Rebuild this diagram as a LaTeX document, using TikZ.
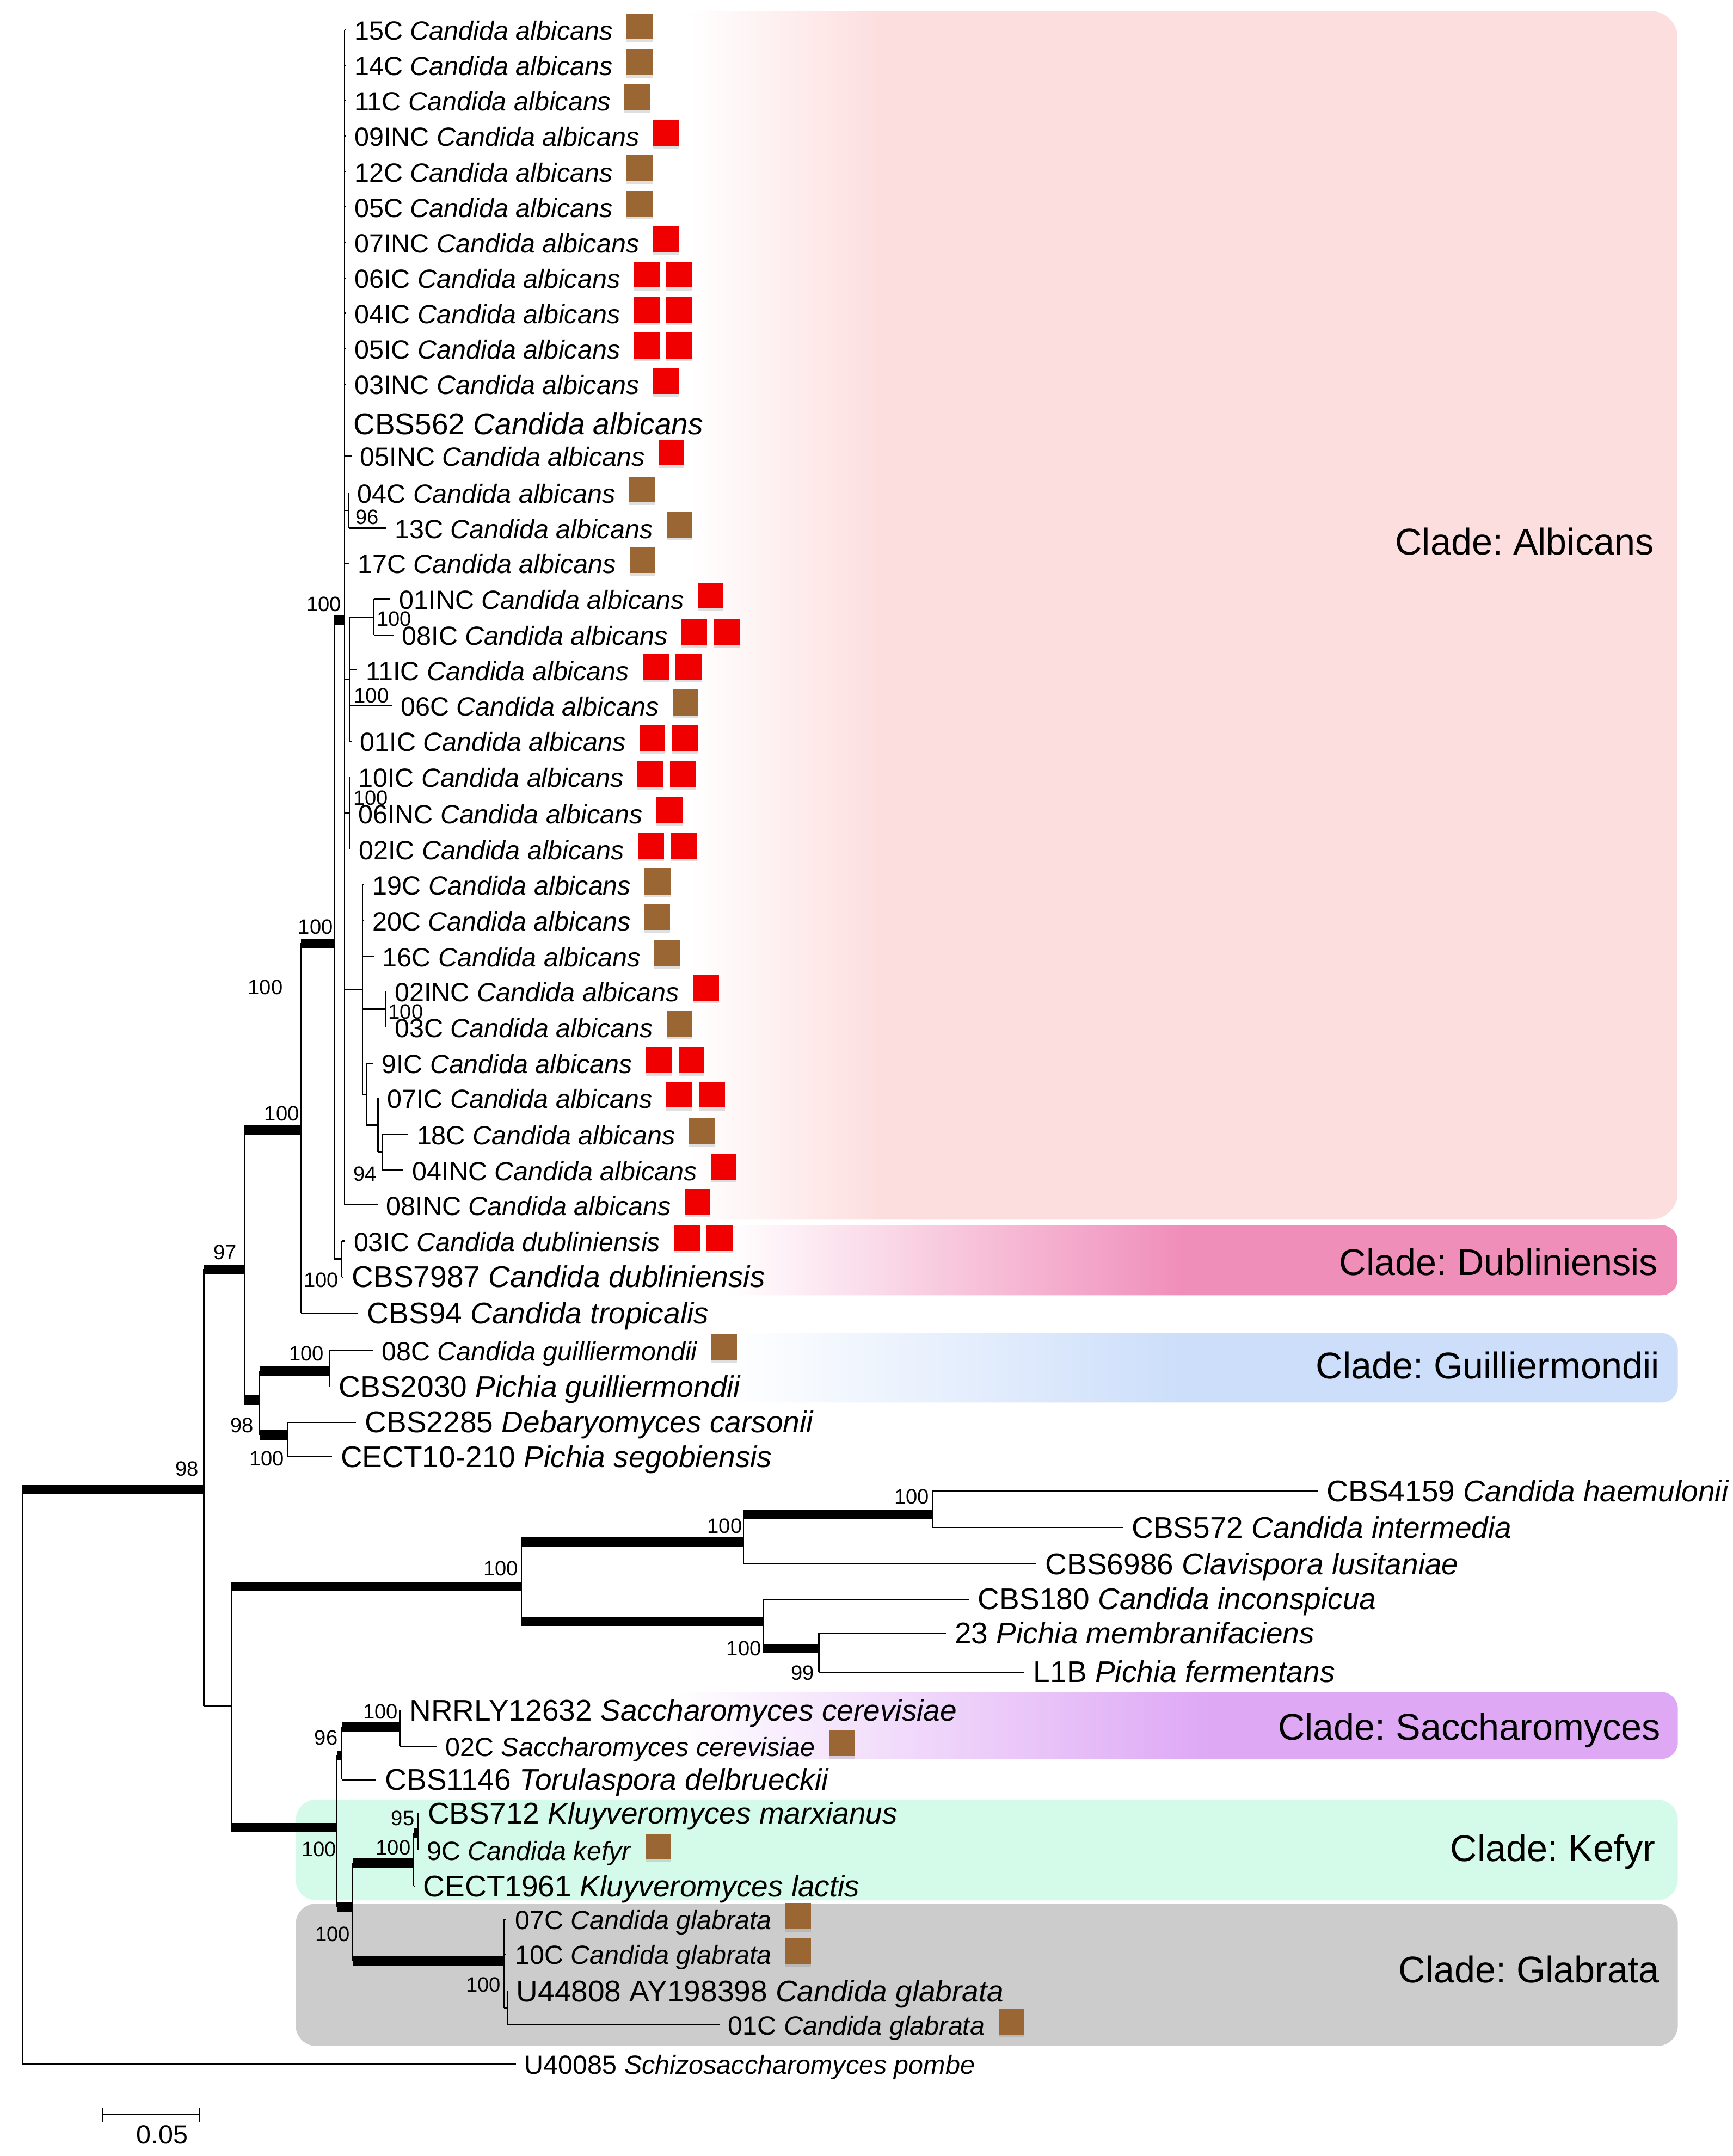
\documentclass[tikz,border=0pt]{standalone}
\usepackage{fontspec}
\setmainfont{Liberation Sans}
\usetikzlibrary{positioning, shadows}
\frenchspacing
\definecolor{albpink}{RGB}{253,222,223}
\definecolor{dubpink}{RGB}{240,142,186}
\definecolor{guilblue}{RGB}{204,222,250}
\definecolor{sacviolet}{RGB}{222,168,245}
\definecolor{kefmint}{RGB}{212,251,233}
\definecolor{glabgray}{RGB}{204,204,204}
\definecolor{isobrown}{RGB}{154,102,52}
\definecolor{isored}{RGB}{240,0,0}
\pgfdeclarehorizontalshading{albshade}{100bp}{color(0bp)=(white); color(25.7bp)=(white); color(35.3bp)=(albpink); color(100bp)=(albpink)}
\pgfdeclarehorizontalshading{dubshade}{100bp}{color(0bp)=(white); color(27bp)=(white); color(50bp)=(dubpink); color(100bp)=(dubpink)}
\pgfdeclarehorizontalshading{guilshade}{100bp}{color(0bp)=(white); color(27bp)=(white); color(50bp)=(guilblue); color(100bp)=(guilblue)}
\pgfdeclarehorizontalshading{sacshade}{100bp}{color(0bp)=(white); color(25.7bp)=(white); color(52bp)=(sacviolet); color(100bp)=(sacviolet)}
\tikzstyle{leaf}=[anchor=base west, inner xsep=0.3cm, inner ysep=0pt, text height=0.75cm, text depth=0pt, font=\fontsize{27.3}{30}\selectfont]
\tikzstyle{refleaf}=[leaf, font=\fontsize{31}{34}\selectfont]
\tikzstyle{boot}=[anchor=base east, inner sep=0pt, font=\fontsize{21.5}{24}\selectfont]
\tikzstyle{clade}=[anchor=base east, inner sep=0pt, font=\fontsize{38.5}{42}\selectfont]
\tikzstyle{thickbr}=[line width=0.34cm]
\tikzstyle{isolate}=[rectangle, minimum size=0.94cm, inner sep=0pt, drop shadow={shadow xshift=0pt, shadow yshift=-0.1cm, opacity=0.25}]
\tikzstyle{brownsq}=[isolate, fill=isobrown]
\tikzstyle{redsq}=[isolate, fill=isored]

\begin{document}
\begin{tikzpicture}[x=0.05cm, y=-0.05cm, line width=1.3pt]
  \useasboundingbox (0,0) rectangle (1260,1568);

  \shade[shading=albshade, rounded corners=1cm] (490,8) rectangle (1220,887);
  \shade[shading=dubshade, rounded corners=0.6cm] (500,891) rectangle (1220,942);
  \shade[shading=guilshade, rounded corners=0.6cm] (500,969.5) rectangle (1220,1020);
  \shade[shading=sacshade, rounded corners=0.6cm] (480,1230.6) rectangle (1220,1279.2);
  \fill[kefmint, rounded corners=0.75cm] (215,1308.7) rectangle (1220,1382);
  \fill[glabgray, rounded corners=0.75cm] (215,1384.4) rectangle (1220,1488);

  \node[clade] (cAlb) at (1203,403.3) {Clade: Albicans};
  \node[clade] (cDub) at (1206,927.3) {Clade: Dubliniensis};
  \node[clade] (cGui) at (1207,1002.5) {Clade: Guilliermondii};
  \node[clade] (cSac) at (1208,1265.6) {Clade: Saccharomyces};
  \node[clade] (cKef) at (1204,1353.5) {Clade: Kefyr};
  \node[clade] (cGla) at (1207,1442) {Clade: Glabrata};

  \node[leaf] (l15C) at (251.4,29.1) {15C \textit{Candida albicans}};
  \node[leaf] (l14C) at (251.4,54.9) {14C \textit{Candida albicans}};
  \node[leaf] (l11C) at (251.4,80.6) {11C \textit{Candida albicans}};
  \node[leaf] (l09INC) at (251.4,106.4) {09INC \textit{Candida albicans}};
  \node[leaf] (l12C) at (251.4,132.2) {12C \textit{Candida albicans}};
  \node[leaf] (l05C) at (251.4,158) {05C \textit{Candida albicans}};
  \node[leaf] (l07INC) at (251.4,183.8) {07INC \textit{Candida albicans}};
  \node[leaf] (l06IC) at (251.4,209.6) {06IC \textit{Candida albicans}};
  \node[leaf] (l04IC) at (251.4,235.3) {04IC \textit{Candida albicans}};
  \node[leaf] (l05IC) at (251.4,261.1) {05IC \textit{Candida albicans}};
  \node[leaf] (l03INC) at (251.4,286.9) {03INC \textit{Candida albicans}};
  \node[refleaf] (lCBS562) at (250.5,316) {CBS562 \textit{Candida albicans}};
  \node[leaf] (l05INC) at (255.5,339) {05INC \textit{Candida albicans}};
  \node[leaf] (l04C) at (253.5,365.9) {04C \textit{Candida albicans}};
  \node[leaf] (l13C) at (280.5,391.6) {13C \textit{Candida albicans}};
  \node[leaf] (l17C) at (253.7,417) {17C \textit{Candida albicans}};
  \node[leaf] (l01INC) at (283.9,443) {01INC \textit{Candida albicans}};
  \node[leaf] (l08IC) at (286,469.3) {08IC \textit{Candida albicans}};
  \node[leaf] (l11IC) at (259.5,494.7) {11IC \textit{Candida albicans}};
  \node[leaf] (l06C) at (285,520.8) {06C \textit{Candida albicans}};
  \node[leaf] (l01IC) at (255.5,546.5) {01IC \textit{Candida albicans}};
  \node[leaf] (l10IC) at (254,572.6) {10IC \textit{Candida albicans}};
  \node[leaf] (l06INC) at (254,598.8) {06INC \textit{Candida albicans}};
  \node[leaf] (l02IC) at (254.5,624.9) {02IC \textit{Candida albicans}};
  \node[leaf] (l19C) at (264.6,651) {19C \textit{Candida albicans}};
  \node[leaf] (l20C) at (264.3,677) {20C \textit{Candida albicans}};
  \node[leaf] (l16C) at (271.7,703) {16C \textit{Candida albicans}};
  \node[leaf] (l02INC) at (280.6,728.2) {02INC \textit{Candida albicans}};
  \node[leaf] (l03C) at (280.6,754.5) {03C \textit{Candida albicans}};
  \node[leaf] (l9IC) at (271,780.8) {9IC \textit{Candida albicans}};
  \node[leaf] (l07IC) at (275,806) {07IC \textit{Candida albicans}};
  \node[leaf] (l18C) at (296.7,832.3) {18C \textit{Candida albicans}};
  \node[leaf] (l04INC) at (293.4,858.5) {04INC \textit{Candida albicans}};
  \node[leaf] (l08INC) at (274.5,883.8) {08INC \textit{Candida albicans}};
  \node[leaf] (l03IC) at (250.8,910) {03IC \textit{Candida dubliniensis}};
  \node[refleaf] (lCBS7987) at (249.5,936.2) {CBS7987 \textit{Candida dubliniensis}};
  \node[refleaf] (lCBS94) at (260.6,962.5) {CBS94 \textit{Candida tropicalis}};
  \node[leaf] (l08C) at (271.1,989.5) {08C \textit{Candida guilliermondii}};
  \node[refleaf] (lCBS2030) at (240,1016) {CBS2030 \textit{Pichia guilliermondii}};
  \node[refleaf] (lCBS2285) at (259,1042) {CBS2285 \textit{Debaryomyces carsonii}};
  \node[refleaf] (lCECT10) at (241.3,1067) {CECT10-210 \textit{Pichia segobiensis}};
  \node[refleaf] (lCBS4159) at (958.3,1092) {CBS4159 \textit{Candida haemulonii}};
  \node[refleaf] (lCBS572) at (816.5,1118.5) {CBS572 \textit{Candida intermedia}};
  \node[refleaf] (lCBS6986) at (753.7,1145) {CBS6986 \textit{Clavispora lusitaniae}};
  \node[refleaf] (lCBS180) at (704.7,1170.6) {CBS180 \textit{Candida inconspicua}};
  \node[refleaf] (l23) at (687.8,1195.3) {23 \textit{Pichia membranifaciens}};
  \node[refleaf] (lL1B) at (745,1223.6) {L1B \textit{Pichia fermentans}};
  \node[refleaf] (lNRRLY) at (291.3,1251.4) {NRRLY12632 \textit{Saccharomyces cerevisiae}};
  \node[leaf] (l02C) at (317.5,1277.4) {02C \textit{Saccharomyces cerevisiae}};
  \node[refleaf] (lCBS1146) at (273.6,1301.8) {CBS1146 \textit{Torulaspora delbrueckii}};
  \node[refleaf] (lCBS712) at (304.7,1326.3) {CBS712 \textit{Kluyveromyces marxianus}};
  \node[leaf] (l9C) at (304,1352.8) {9C \textit{Candida kefyr}};
  \node[refleaf] (lCECT1961) at (301.4,1379.3) {CECT1961 \textit{Kluyveromyces lactis}};
  \node[leaf] (l07C) at (368,1403.3) {07C \textit{Candida glabrata}};
  \node[leaf] (l10C) at (368,1428.6) {10C \textit{Candida glabrata}};
  \node[refleaf] (lU44808) at (369,1455.6) {U44808 AY198398 \textit{Candida glabrata}};
  \node[leaf] (l01C) at (523,1480) {01C \textit{Candida glabrata}};
  \node[leaf] (lU40085) at (375,1508.6) {U40085 \textit{Schizosaccharomyces pombe}};

  \node[brownsq, anchor=south west] (s15C) at ([xshift=0.15cm]l15C.base east) {};
  \node[brownsq, anchor=south west] (s14C) at ([xshift=0.15cm]l14C.base east) {};
  \node[brownsq, anchor=south west] (s11C) at ([xshift=0.15cm]l11C.base east) {};
  \node[redsq, anchor=south west] (s09INC) at ([xshift=0.15cm]l09INC.base east) {};
  \node[brownsq, anchor=south west] (s12C) at ([xshift=0.15cm]l12C.base east) {};
  \node[brownsq, anchor=south west] (s05C) at ([xshift=0.15cm]l05C.base east) {};
  \node[redsq, anchor=south west] (s07INC) at ([xshift=0.15cm]l07INC.base east) {};
  \node[redsq, anchor=south west] (s06IC) at ([xshift=0.15cm]l06IC.base east) {};
  \node[redsq, right=0.2cm of s06IC] (s06ICb) {};
  \node[redsq, anchor=south west] (s04IC) at ([xshift=0.15cm]l04IC.base east) {};
  \node[redsq, right=0.2cm of s04IC] (s04ICb) {};
  \node[redsq, anchor=south west] (s05IC) at ([xshift=0.15cm]l05IC.base east) {};
  \node[redsq, right=0.2cm of s05IC] (s05ICb) {};
  \node[redsq, anchor=south west] (s03INC) at ([xshift=0.15cm]l03INC.base east) {};
  \node[redsq, anchor=south west] (s05INC) at ([xshift=0.15cm]l05INC.base east) {};
  \node[brownsq, anchor=south west] (s04C) at ([xshift=0.15cm]l04C.base east) {};
  \node[brownsq, anchor=south west] (s13C) at ([xshift=0.15cm]l13C.base east) {};
  \node[brownsq, anchor=south west] (s17C) at ([xshift=0.15cm]l17C.base east) {};
  \node[redsq, anchor=south west] (s01INC) at ([xshift=0.15cm]l01INC.base east) {};
  \node[redsq, anchor=south west] (s08IC) at ([xshift=0.15cm]l08IC.base east) {};
  \node[redsq, right=0.2cm of s08IC] (s08ICb) {};
  \node[redsq, anchor=south west] (s11IC) at ([xshift=0.15cm]l11IC.base east) {};
  \node[redsq, right=0.2cm of s11IC] (s11ICb) {};
  \node[brownsq, anchor=south west] (s06C) at ([xshift=0.15cm]l06C.base east) {};
  \node[redsq, anchor=south west] (s01IC) at ([xshift=0.15cm]l01IC.base east) {};
  \node[redsq, right=0.2cm of s01IC] (s01ICb) {};
  \node[redsq, anchor=south west] (s10IC) at ([xshift=0.15cm]l10IC.base east) {};
  \node[redsq, right=0.2cm of s10IC] (s10ICb) {};
  \node[redsq, anchor=south west] (s06INC) at ([xshift=0.15cm]l06INC.base east) {};
  \node[redsq, anchor=south west] (s02IC) at ([xshift=0.15cm]l02IC.base east) {};
  \node[redsq, right=0.2cm of s02IC] (s02ICb) {};
  \node[brownsq, anchor=south west] (s19C) at ([xshift=0.15cm]l19C.base east) {};
  \node[brownsq, anchor=south west] (s20C) at ([xshift=0.15cm]l20C.base east) {};
  \node[brownsq, anchor=south west] (s16C) at ([xshift=0.15cm]l16C.base east) {};
  \node[redsq, anchor=south west] (s02INC) at ([xshift=0.15cm]l02INC.base east) {};
  \node[brownsq, anchor=south west] (s03C) at ([xshift=0.15cm]l03C.base east) {};
  \node[redsq, anchor=south west] (s9IC) at ([xshift=0.15cm]l9IC.base east) {};
  \node[redsq, right=0.2cm of s9IC] (s9ICb) {};
  \node[redsq, anchor=south west] (s07IC) at ([xshift=0.15cm]l07IC.base east) {};
  \node[redsq, right=0.2cm of s07IC] (s07ICb) {};
  \node[brownsq, anchor=south west] (s18C) at ([xshift=0.15cm]l18C.base east) {};
  \node[redsq, anchor=south west] (s04INC) at ([xshift=0.15cm]l04INC.base east) {};
  \node[redsq, anchor=south west] (s08INC) at ([xshift=0.15cm]l08INC.base east) {};
  \node[redsq, anchor=south west] (s03IC) at ([xshift=0.15cm]l03IC.base east) {};
  \node[redsq, right=0.2cm of s03IC] (s03ICb) {};
  \node[brownsq, anchor=south west] (s08C) at ([xshift=0.15cm]l08C.base east) {};
  \node[brownsq, anchor=south west] (s02C) at ([xshift=0.15cm]l02C.base east) {};
  \node[brownsq, anchor=south west] (s9C) at ([xshift=0.15cm]l9C.base east) {};
  \node[brownsq, anchor=south west] (s07C) at ([xshift=0.15cm]l07C.base east) {};
  \node[brownsq, anchor=south west] (s10C) at ([xshift=0.15cm]l10C.base east) {};
  \node[brownsq, anchor=south west] (s01C) at ([xshift=0.15cm]l01C.base east) {};

  \coordinate (nRoot) at (16.3,1083.5);
  \coordinate (nA) at (148.2,1083.5);
  \coordinate (nB) at (177.8,923);
  \coordinate (nC) at (219,822);
  \coordinate (nD) at (243,686);
  \coordinate (nE) at (250.5,451);
  \coordinate (nS1) at (253.5,371.2);
  \coordinate (nP1) at (272,448.7);
  \coordinate (nF1) at (254,493.8);
  \coordinate (nF2) at (254,591.3);
  \coordinate (nG) at (263.5,719.7);
  \coordinate (nP2) at (280.5,733.9);
  \coordinate (nH) at (266.4,795.8);
  \coordinate (nH2) at (274.8,818.2);
  \coordinate (nH3) at (277.7,837.9);
  \coordinate (nDub) at (248.5,915.6);
  \coordinate (nI) at (188.8,1018);
  \coordinate (nJ) at (239.3,997);
  \coordinate (nK) at (209,1043.6);
  \coordinate (nL) at (168.3,1240.5);
  \coordinate (nV) at (379,1153.8);
  \coordinate (nW) at (540.6,1121.5);
  \coordinate (nX) at (677.8,1101.7);
  \coordinate (nY) at (555,1179.3);
  \coordinate (nZ) at (595.4,1198.8);
  \coordinate (nP) at (244.8,1329);
  \coordinate (nM) at (248.6,1276.5);
  \coordinate (nN) at (290.7,1256);
  \coordinate (nQ) at (256.5,1387);
  \coordinate (nKef) at (300.8,1354.7);
  \coordinate (nKm) at (304,1333);
  \coordinate (nT) at (366.5,1426);
  \coordinate (nU) at (368.8,1460.3);

  \draw (nRoot) -- (nRoot |- lU40085.west);
  \draw (nRoot |- lU40085.west) -- (lU40085.west);
  \draw[thickbr] (nRoot) -- (nA);
  \draw (nA |- nB) -- (nA |- nL);
  \draw[thickbr] (nA |- nB) -- (nB);
  \draw (nA |- nL) -- (nL);
  \draw (nB |- nC) -- (nB |- nI);
  \draw[thickbr] (nB |- nC) -- (nC);
  \draw[thickbr] (nB |- nI) -- (nI);
  \draw (nC |- nD) -- (nC |- lCBS94.west);
  \draw[thickbr] (nC |- nD) -- (nD);
  \draw (nC |- lCBS94.west) -- (lCBS94.west);
  \draw (nD |- nE) -- (nD |- nDub);
  \draw[thickbr] (nD |- nE) -- (nE);
  \draw (nD |- nDub) -- (nDub);

  \draw (nE |- l15C.west) -- (nE |- l08INC.west);
  \draw (nE |- l15C.west) -- (l15C.west);
  \draw (nE |- l14C.west) -- (l14C.west);
  \draw (nE |- l11C.west) -- (l11C.west);
  \draw (nE |- l09INC.west) -- (l09INC.west);
  \draw (nE |- l12C.west) -- (l12C.west);
  \draw (nE |- l05C.west) -- (l05C.west);
  \draw (nE |- l07INC.west) -- (l07INC.west);
  \draw (nE |- l06IC.west) -- (l06IC.west);
  \draw (nE |- l04IC.west) -- (l04IC.west);
  \draw (nE |- l05IC.west) -- (l05IC.west);
  \draw (nE |- l03INC.west) -- (l03INC.west);
  \draw (nE |- lCBS562.west) -- (lCBS562.west);
  \draw (nE |- l05INC.west) -- (l05INC.west);
  \draw (nE |- l17C.west) -- (l17C.west);
  \draw (nE |- l08INC.west) -- (l08INC.west);
  \draw (nE |- nS1) -- (nS1);
  \draw (nE |- nF1) -- (nF1);
  \draw (nE |- nF2) -- (nF2);
  \draw (nE |- nG) -- (nG);

  \draw (nS1 |- l04C.west) -- (nS1 |- l13C.west);
  \draw (nS1 |- l04C.west) -- (l04C.west);
  \draw (nS1 |- l13C.west) -- (l13C.west);

  \draw (nF1 |- nP1) -- (nF1 |- l01IC.west);
  \draw (nF1 |- nP1) -- (nP1);
  \draw (nF1 |- l11IC.west) -- (l11IC.west);
  \draw (nF1 |- l06C.west) -- (l06C.west);
  \draw (nF1 |- l01IC.west) -- (l01IC.west);
  \draw (nP1 |- l01INC.west) -- (nP1 |- l08IC.west);
  \draw (nP1 |- l01INC.west) -- (l01INC.west);
  \draw (nP1 |- l08IC.west) -- (l08IC.west);

  \draw (nF2 |- l10IC.west) -- (nF2 |- l02IC.west);
  \draw (nF2 |- l10IC.west) -- (l10IC.west);
  \draw (nF2 |- l06INC.west) -- (l06INC.west);
  \draw (nF2 |- l02IC.west) -- (l02IC.west);

  \draw (nG |- l19C.west) -- (nG |- nH);
  \draw (nG |- l19C.west) -- (l19C.west);
  \draw (nG |- l20C.west) -- (l20C.west);
  \draw (nG |- l16C.west) -- (l16C.west);
  \draw (nG |- nP2) -- (nP2);
  \draw (nG |- nH) -- (nH);
  \draw (nP2 |- l02INC.west) -- (nP2 |- l03C.west);
  \draw (nP2 |- l02INC.west) -- (l02INC.west);
  \draw (nP2 |- l03C.west) -- (l03C.west);
  \draw (nH |- l9IC.west) -- (nH |- nH2);
  \draw (nH |- l9IC.west) -- (l9IC.west);
  \draw (nH |- nH2) -- (nH2);
  \draw (nH2 |- l07IC.west) -- (nH2 |- nH3);
  \draw (nH2 |- l07IC.west) -- (l07IC.west);
  \draw (nH2 |- nH3) -- (nH3);
  \draw (nH3 |- l18C.west) -- (nH3 |- l04INC.west);
  \draw (nH3 |- l18C.west) -- (l18C.west);
  \draw (nH3 |- l04INC.west) -- (l04INC.west);

  \draw (nDub |- l03IC.west) -- (nDub |- lCBS7987.west);
  \draw (nDub |- l03IC.west) -- (l03IC.west);
  \draw (nDub |- lCBS7987.west) -- (lCBS7987.west);

  \draw (nI |- nJ) -- (nI |- nK);
  \draw[thickbr] (nI |- nJ) -- (nJ);
  \draw[thickbr] (nI |- nK) -- (nK);
  \draw (nJ |- l08C.west) -- (nJ |- lCBS2030.west);
  \draw (nJ |- l08C.west) -- (l08C.west);
  \draw (nJ |- lCBS2030.west) -- (lCBS2030.west);
  \draw (nK |- lCBS2285.west) -- (nK |- lCECT10.west);
  \draw (nK |- lCBS2285.west) -- (lCBS2285.west);
  \draw (nK |- lCECT10.west) -- (lCECT10.west);

  \draw (nL |- nV) -- (nL |- nP);
  \draw[thickbr] (nL |- nV) -- (nV);
  \draw[thickbr] (nL |- nP) -- (nP);
  \draw (nV |- nW) -- (nV |- nY);
  \draw[thickbr] (nV |- nW) -- (nW);
  \draw[thickbr] (nV |- nY) -- (nY);
  \draw (nW |- nX) -- (nW |- lCBS6986.west);
  \draw[thickbr] (nW |- nX) -- (nX);
  \draw (nW |- lCBS6986.west) -- (lCBS6986.west);
  \draw (nX |- lCBS4159.west) -- (nX |- lCBS572.west);
  \draw (nX |- lCBS4159.west) -- (lCBS4159.west);
  \draw (nX |- lCBS572.west) -- (lCBS572.west);
  \draw (nY |- lCBS180.west) -- (nY |- nZ);
  \draw (nY |- lCBS180.west) -- (lCBS180.west);
  \draw[thickbr] (nY |- nZ) -- (nZ);
  \draw (nZ |- l23.west) -- (nZ |- lL1B.west);
  \draw (nZ |- l23.west) -- (l23.west);
  \draw (nZ |- lL1B.west) -- (lL1B.west);

  \draw (nP |- nM) -- (nP |- nQ);
  \draw[thickbr] (nP |- nM) -- (nM);
  \draw[thickbr] (nP |- nQ) -- (nQ);
  \draw (nM |- nN) -- (nM |- lCBS1146.west);
  \draw[thickbr] (nM |- nN) -- (nN);
  \draw (nM |- lCBS1146.west) -- (lCBS1146.west);
  \draw (nN |- lNRRLY.west) -- (nN |- l02C.west);
  \draw (nN |- lNRRLY.west) -- (lNRRLY.west);
  \draw (nN |- l02C.west) -- (l02C.west);
  \draw (nQ |- nKef) -- (nQ |- nT);
  \draw[thickbr] (nQ |- nKef) -- (nKef);
  \draw[thickbr] (nQ |- nT) -- (nT);
  \draw (nKef |- nKm) -- (nKef |- lCECT1961.west);
  \draw[thickbr] (nKef |- nKm) -- (nKm);
  \draw (nKef |- lCECT1961.west) -- (lCECT1961.west);
  \draw (nKm |- lCBS712.west) -- (nKm |- l9C.west);
  \draw (nKm |- lCBS712.west) -- (lCBS712.west);
  \draw (nKm |- l9C.west) -- (l9C.west);
  \draw (nT |- l07C.west) -- (nT |- nU);
  \draw (nT |- l07C.west) -- (l07C.west);
  \draw (nT |- l10C.west) -- (l10C.west);
  \draw (nT |- nU) -- (nU);
  \draw (nU |- lU44808.west) -- (nU |- l01C.west);
  \draw (nU |- lU44808.west) -- (lU44808.west);
  \draw (nU |- l01C.west) -- (l01C.west);

  \node[boot] (bA) at (145,1073.4) {98};
  \node[boot] (bB) at (172.5,916) {97};
  \node[boot] (bC) at (218,815) {100};
  \node[boot] (bCx) at (206,723.2) {100};
  \node[boot] (bD) at (242.5,679.5) {100};
  \node[boot] (bE) at (248.5,444.5) {100};
  \node[boot, anchor=base west] (bS1) at (258,381.5) {96};
  \node[boot, anchor=base west] (bP1) at (273.5,455.5) {100};
  \node[boot, anchor=base west] (bF1) at (257,511) {100};
  \node[boot, anchor=base west] (bF2) at (256.5,585.5) {100};
  \node[boot, anchor=base west] (bP2) at (282,741) {100};
  \node[boot] (bH3) at (274.3,859) {94};
  \node[boot] (bDub) at (246.6,936) {100};
  \node[boot] (bJ) at (236,989.6) {100};
  \node[boot] (bI) at (184.8,1042) {98};
  \node[boot] (bK) at (207,1065.8) {100};
  \node[boot] (bV) at (377.3,1146) {100};
  \node[boot] (bW) at (540,1115) {100};
  \node[boot] (bX) at (676,1093.7) {100};
  \node[boot] (bY) at (554,1204) {100};
  \node[boot] (bZ) at (592.4,1221.8) {99};
  \node[boot] (bN) at (289.8,1250) {100};
  \node[boot] (bM) at (246,1269) {96};
  \node[boot] (bKm) at (301.8,1327.6) {95};
  \node[boot] (bKef) at (299,1349) {100};
  \node[boot] (bP) at (245,1350) {100};
  \node[boot] (bQ) at (254.9,1412) {100};
  \node[boot] (bT) at (364.5,1448.5) {100};

  \coordinate (sbL) at (74.7,1537.7);
  \coordinate (sbR) at (144.9,1537.7);
  \draw[line width=1.6pt] (sbL) -- (sbR);
  \draw[line width=1.6pt] ([yshift=0.25cm]sbL) -- ([yshift=-0.27cm]sbL);
  \draw[line width=1.6pt] ([yshift=0.25cm]sbR) -- ([yshift=-0.27cm]sbR);
  \node[leaf, anchor=base] (sbText) at (117.9,1559) {0.05};
\end{tikzpicture}
\end{document}
